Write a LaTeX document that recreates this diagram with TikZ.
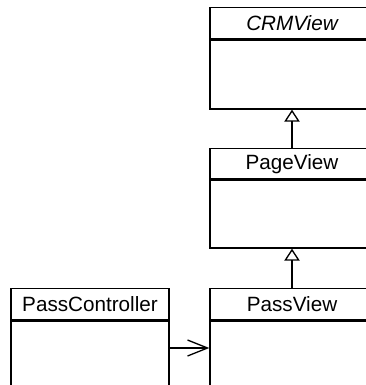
\documentclass[tikz,border=0pt]{standalone}
\usepackage{fontspec}
\setmainfont{Liberation Sans}
\usetikzlibrary{arrows.meta}

\begin{document}
\begin{tikzpicture}[x=0.75pt,y=-0.75pt,line width=1pt,
  classhead/.style={draw,anchor=north,inner sep=0pt,minimum width=123pt,minimum height=23.25pt,font=\fontsize{15.5}{18}\selectfont},
  classbody/.style={draw,anchor=north,inner sep=0pt,minimum width=123pt},
  inherit/.style={-{Triangle[open,length=9pt,width=11.5pt]}},
  assoc/.style={-{Straight Barb[length=15pt,width=12pt]}}]
\clip (0,0) rectangle (366,385);
% the view hierarchy
\node[classhead] (crmhead) at (292,7) {\itshape CRMView};
\node[classbody,minimum height=51.75pt] (crm) at (crmhead.south) {};
\node[classhead,minimum height=22.5pt] (pagehead) at (292,148) {PageView};
\node[classbody,minimum height=51pt] (page) at (pagehead.south) {};
\node[classhead] (passhead) at (292,288) {PassView};
\node[classbody,minimum height=61pt] (pass) at (passhead.south) {};
% controller on the left
\node[classhead,minimum width=118.5pt] (ctrlhead) at (90,288) {PassController};
\node[classbody,minimum width=118.5pt,minimum height=61pt] (ctrl) at (ctrlhead.south) {};
\draw[inherit] (pagehead.north) -- (crm.south);
\draw[inherit] (passhead.north) -- (page.south);
\coordinate (uses) at (190,348);
\draw[assoc] (ctrl.east |- uses) -- (pass.west |- uses);
\end{tikzpicture}
\end{document}
